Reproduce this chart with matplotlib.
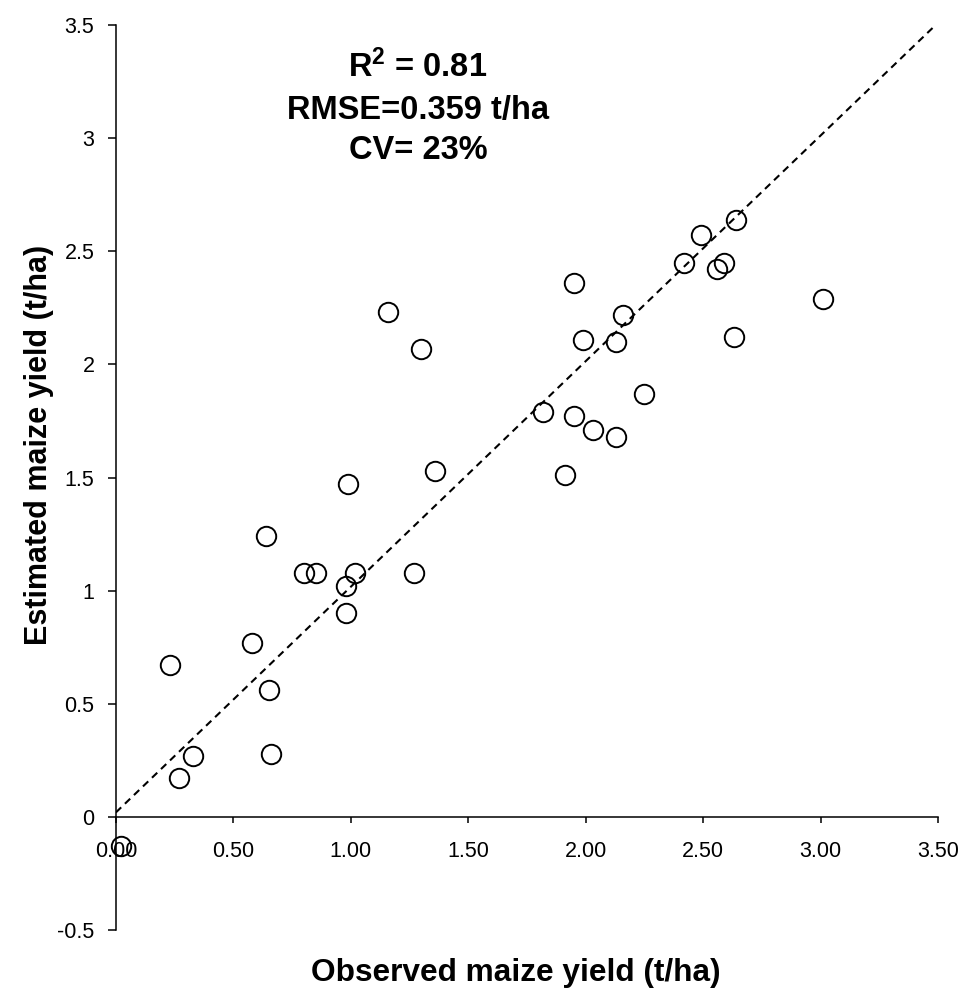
import numpy as np
import matplotlib
matplotlib.use("Agg")
import matplotlib.pyplot as plt

plt.rcParams["font.family"] = ["Liberation Sans", "DejaVu Sans"]
plt.rcParams["mathtext.default"] = "regular"

# observed vs estimated maize yield (t/ha)
observed = [0.02, 0.23, 0.27, 0.33, 0.58, 0.64, 0.65, 0.66, 0.80, 0.85,
            0.98, 0.98, 0.99, 1.02, 1.16, 1.27, 1.30, 1.36, 1.82, 1.91,
            1.95, 1.95, 1.99, 2.03, 2.13, 2.13, 2.16, 2.25, 2.42, 2.49,
            2.56, 2.59, 2.63, 2.64, 3.01]
estimated = [-0.13, 0.67, 0.17, 0.27, 0.77, 1.24, 0.56, 0.28, 1.08, 1.08,
             1.02, 0.90, 1.47, 1.08, 2.23, 1.08, 2.07, 1.53, 1.79, 1.51,
             2.36, 1.77, 2.11, 1.71, 1.68, 2.10, 2.22, 1.87, 2.45, 2.57,
             2.42, 2.45, 2.12, 2.64, 2.29]

# 1:1 reference line
line_x = [0.0, 3.48]
line_y = [0.02, 3.49]

xticks = [0, 0.5, 1.0, 1.5, 2.0, 2.5, 3.0, 3.5]
yticks = [-0.5, 0, 0.5, 1, 1.5, 2, 2.5, 3, 3.5]

stats_lines = ["R$^{2}$ = 0.81", "RMSE=0.359 t/ha", "CV= 23%"]

fig = plt.figure(figsize=(9.66, 9.93), dpi=100)
ax = fig.add_axes([0.120, 0.0634, 0.851, 0.9114])

ax.plot(line_x, line_y, color="black", lw=1.5, ls=(0, (3.5, 2.5)))
ax.plot(observed, estimated, "o", ms=14, mfc="none", mec="black", mew=1.4,
        clip_on=False)

ax.set_xlim(0, 3.5)
ax.set_ylim(-0.5, 3.5)
ax.spines["top"].set_visible(False)
ax.spines["right"].set_visible(False)
ax.spines["bottom"].set_position(("data", 0))
ax.spines["left"].set_linewidth(1.1)
ax.spines["bottom"].set_linewidth(1.1)

ax.set_xticks(xticks)
ax.set_xticklabels([f"{t:.2f}" for t in xticks])
ax.set_yticks(yticks)
ax.set_yticklabels([f"{t:g}" for t in yticks])
ax.tick_params(axis="x", direction="out", length=4, width=1.1, pad=13,
               labelsize=15.5)
ax.tick_params(axis="y", direction="out", length=6, width=1.1, pad=9.5,
               labelsize=15.5)

# stats annotation
for txt, yy in zip(stats_lines, [3.315, 3.124, 2.944]):
    ax.text(1.286, yy, txt, ha="center", va="center", fontsize=23.5,
            fontweight="bold")

fig.text(0.5336, 0.0201, "Observed maize yield (t/ha)", ha="center",
         va="center", fontsize=22.8, fontweight="bold")
fig.text(0.0404, 0.552, "Estimated maize yield (t/ha)", ha="center",
         va="center", rotation=90, fontsize=22, fontweight="bold")

fig.savefig("out.png", dpi=100)
